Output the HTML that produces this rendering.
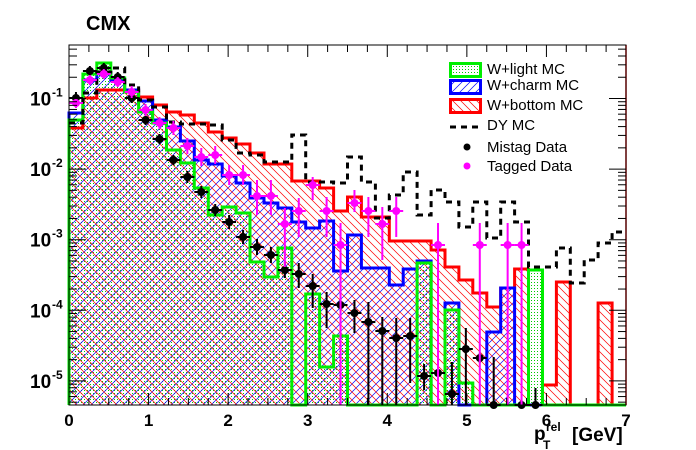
<!DOCTYPE html>
<html><head><meta charset="utf-8"><style>
html,body{margin:0;padding:0;background:#fff;}
svg{display:block;font-family:"Liberation Sans",Arial,sans-serif;}
</style></head><body>
<svg id="s" width="696" height="450" viewBox="0 0 696 450" xmlns="http://www.w3.org/2000/svg">
<defs>
<pattern id="pr" width="8" height="8" patternUnits="userSpaceOnUse"><path d="M-2,-2 L10,10 M-2,6 L2,10 M6,-2 L10,2" stroke="#f00" stroke-width="0.7"/></pattern>
<pattern id="pb" width="8" height="8" patternUnits="userSpaceOnUse"><path d="M-2,10 L10,-2 M-2,2 L2,-2 M6,10 L10,6" stroke="#00f" stroke-width="0.7"/></pattern>
<pattern id="pg" width="3" height="3" patternUnits="userSpaceOnUse"><rect x="0" y="0" width="1" height="1" fill="#0c0"/></pattern>
</defs>
<g id="plot"></g>
<text x="86" y="30" font-size="20" font-weight="bold">CMX</text>
</svg>
<script>
var S=document.getElementById('plot');var NS='http://www.w3.org/2000/svg';
function el(t,a,txt){var e=document.createElementNS(NS,t);for(var k in a)e.setAttribute(k,a[k]);if(txt!==undefined)e.textContent=txt;S.appendChild(e);return e;}
var X0=69,X1=626,Y0=45,YB=405,BW=(X1-X0)/40;
var red=[128,98,90,90,90,97,105,112,115,123,132,138,144,153,164,164,181,181,188,211,197,217,217,241,241,241,250,267,280,293,307,288,269,405,385,282,405,405,303,405];
var blue=[113,80,73,80,90,101,120,127,141,160,164,176,183,198,203,208,222,228,221,271,235,268,268,285,269,261,405,303,405,405,332,288,405,405,405,405,405,405,405,405];
var green=[120,74,63,78,92,112,123,150,163,188,215,207,213,262,277,248,405,294,367,336,405,405,405,405,405,263,405,310,383,405,405,405,405,270,405,405,405,405,405,405];
var dy=[123,93,72,68,85,100,107,122,124,124,125,140,153,155,162,162,135,182,182,183,157,182,218,195,172,215,190,202,227,202,238,202,222,267,267,248,283,260,243,232];
function path(v){var d='M'+X0+','+YB;for(var i=0;i<40;i++){d+=' L'+(X0+i*BW).toFixed(1)+','+v[i]+' L'+(X0+(i+1)*BW).toFixed(1)+','+v[i];}d+=' L'+X1+','+YB;return d;}
el('path',{d:path(green)+' Z',fill:'url(#pg)'});
el('path',{d:path(blue)+' Z',fill:'url(#pb)'});
el('path',{d:path(red)+' Z',fill:'url(#pr)'});
el('path',{d:path(red),fill:'none',stroke:'#f00','stroke-width':3});
el('path',{d:path(blue),fill:'none',stroke:'#00f','stroke-width':3});
el('path',{d:path(green),fill:'none',stroke:'#0e0','stroke-width':3});
var d='';for(var i=0;i<40;i++){d+=(i==0?'M':' L')+(X0+i*BW).toFixed(1)+','+dy[i]+' L'+(X0+(i+1)*BW).toFixed(1)+','+dy[i];}
el('path',{d:d,fill:'none',stroke:'#000','stroke-width':3,'stroke-dasharray':'6,5'});
function cx(i){return X0+(i+0.5)*BW;}
var mis=[[0,98,92,104],[1,71,66,76],[2,68,63,73],[3,77,72,82],[4,98,93,103],[5,120,115,125],[6,139,134,144],[7,160,155,165],[8,177,171,183],[9,192,186,198],[10,210,204,216],[11,222,215,229],[12,237,230,244],[13,247,239,255],[14,255,247,263],[15,270,262,278],[16,274,263,288],[17,286,274,308],[18,304,292,328],[19,305,298,312],[20,313,300,333],[21,322,302,405],[22,331,317,405],[23,338,318,405],[24,336,318,383],[25,376,364,390],[26,373,368,378],[27,394,362,405],[28,349,328,405],[29,358,353,363],[30,405,357,405],[32,405,400,405],[33,405,388,405]];
var tag=[[0,103,98,108],[1,80,75,85],[2,74,69,79],[3,82,77,87],[4,92,86,98],[5,110,104,116],[6,123,117,129],[7,128,121,135],[8,146,138,154],[9,157,148,166],[10,155,146,164],[11,175,165,185],[12,175,165,185],[13,196,180,215],[14,196,180,215],[15,224,208,267],[16,211,198,237],[17,185,177,200],[18,211,197,237],[19,245,223,405],[20,203,190,212],[21,211,197,237],[22,224,207,260],[23,211,197,237],[26,245,223,405],[29,245,223,405],[31,245,223,405],[32,245,223,405]];
function pts(a,c){a.forEach(function(p){var x=cx(p[0]);el('line',{x1:x,y1:p[2],x2:x,y2:p[3],stroke:c,'stroke-width':2});el('line',{x1:x-BW/2,y1:p[1],x2:x+BW/2,y2:p[1],stroke:c,'stroke-width':2});el('circle',{cx:x,cy:p[1],r:4,fill:c});});}
pts(mis,'#000');pts(tag,'#f0f');
el('line',{x1:X1,y1:Y0,x2:X1,y2:YB,stroke:'#f00','stroke-width':1.5});
el('rect',{x:X0,y:Y0,width:X1-X0,height:YB-Y0,fill:'none',stroke:'#000','stroke-width':1});
var ux=(X1-X0)/7;
for(var k=0;k<=28;k++){var x=X0+k*ux/4;var L=(k%4==0)?12:7;el('line',{x1:x,y1:YB,x2:x,y2:YB-L,stroke:'#000'});el('line',{x1:x,y1:Y0,x2:x,y2:Y0+L,stroke:'#000'});}
for(var k=0;k<=7;k++){el('text',{x:X0+k*ux,y:426,'font-size':17,'font-weight':'bold','text-anchor':'middle'},''+k);}
function yv(l){return 98.5-70.6*(l+1);}
for(var e=-6;e<=0;e++){for(var m=1;m<10;m++){var y=yv(e+Math.log10(m));if(y<Y0||y>YB)continue;var L=(m==1)?17:8;el('line',{x1:X0,y1:y,x2:X0+L,y2:y,stroke:'#000'});el('line',{x1:X1,y1:y,x2:X1-L,y2:y,stroke:'#000'});}}
for(var e=1;e<=5;e++){var y=yv(-e);el('text',{x:30,y:y+7,'font-size':19,'font-weight':'bold'},'10');el('text',{x:52,y:y-2,'font-size':12,'font-weight':'bold'},'-'+e);}
el('text',{x:534,y:440,'font-size':19,'font-weight':'bold'},'p');
el('text',{x:546,y:431,'font-size':12,'font-weight':'bold'},'rel');
el('text',{x:543,y:449,'font-size':12,'font-weight':'bold'},'T');
el('text',{x:572,y:441,'font-size':19,'font-weight':'bold'},'[GeV]');
el('rect',{x:450.5,y:63.5,width:30,height:13,fill:'url(#pg)',stroke:'#0e0','stroke-width':3});
el('rect',{x:450.5,y:80.5,width:30,height:13,fill:'url(#pb)',stroke:'#00f','stroke-width':3});
el('rect',{x:450.5,y:99.5,width:30,height:13,fill:'url(#pr)',stroke:'#f00','stroke-width':3});
el('line',{x1:450,y1:127,x2:481,y2:127,stroke:'#000','stroke-width':3,'stroke-dasharray':'6,5'});
el('circle',{cx:467,cy:147,r:3.5,fill:'#000'});el('circle',{cx:467,cy:166,r:3.5,fill:'#f0f'});
var lt=[['W+light MC',74],['W+charm MC',90],['W+bottom MC',110],['DY MC',130],['Mistag Data',152],['Tagged Data',171]];
lt.forEach(function(a){el('text',{x:487,y:a[1],'font-size':15},a[0]);});
</script>
</body></html>
